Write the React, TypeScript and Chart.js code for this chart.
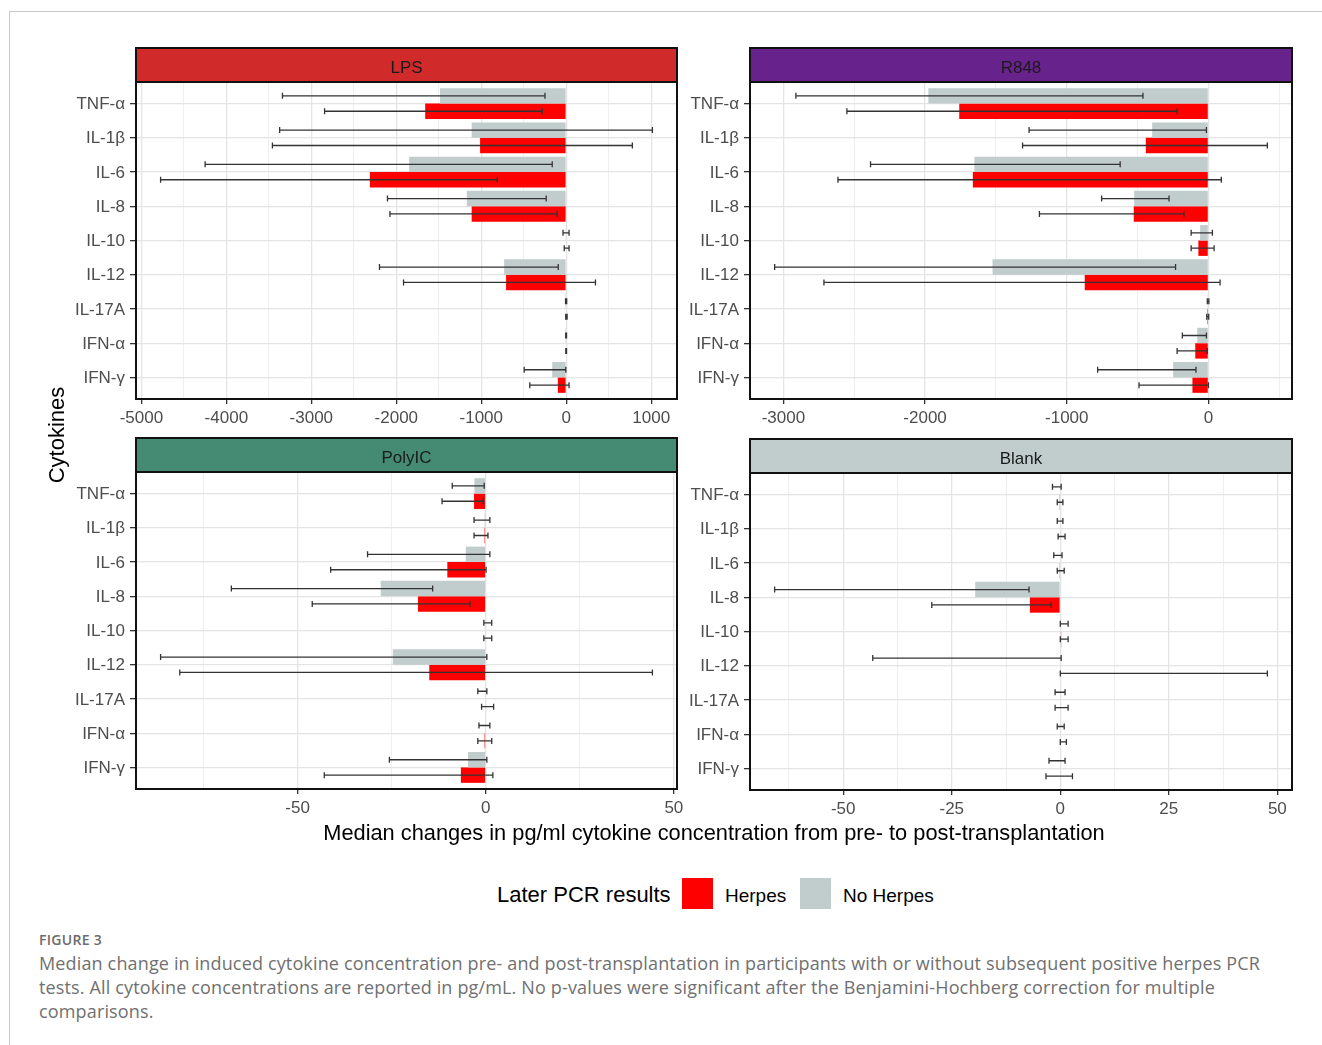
import React, { useEffect, useRef } from "react";
import { Chart, registerables } from "chart.js";

Chart.register(...registerables);

const FONT = "'Liberation Sans', Arial, Helvetica, sans-serif";
const CAPTION_FONT = "'Open Sans', 'Noto Sans', sans-serif";

// ---------------- DATA ----------------
const cytokines = ["TNF-α", "IL-1β", "IL-6", "IL-8", "IL-10", "IL-12", "IL-17A", "IFN-α", "IFN-γ"];

// LPS
const lpsNoHerpes = [-1486, -1113, -1849, -1170, -10, -731, -2, -2, -165];
const lpsNoHerpesLow = [-3340, -3373, -4250, -2104, -38, -2198, -8, -6, -495];
const lpsNoHerpesHigh = [-250, 1014, -165, -236, 33, -94, 5, 3, -5];
const lpsHerpes = [-1660, -1014, -2311, -1113, 0, -708, 0, 0, -99];
const lpsHerpesLow = [-2844, -3458, -4774, -2075, -24, -1915, -6, -5, -429];
const lpsHerpesHigh = [-283, 778, -811, -108, 33, 344, 10, 3, 33];
const lpsMajorTicks = [-5000, -4000, -3000, -2000, -1000, 0, 1000];
const lpsMinorTicks = [-4500, -3500, -2500, -1500, -500, 500];

// R848
const r848NoHerpes = [-1977, -397, -1652, -524, -59, -1524, -3, -79, -249];
const r848NoHerpesLow = [-2912, -1266, -2385, -754, -122, -3062, -8, -184, -782];
const r848NoHerpesHigh = [-462, -14, -623, -278, 28, -232, 3, -14, -88];
const r848Herpes = [-1759, -442, -1663, -527, -71, -873, -8, -93, -113];
const r848HerpesLow = [-2552, -1312, -2615, -1193, -122, -2714, -12, -221, -490];
const r848HerpesHigh = [-221, 416, 91, -173, 40, 82, 2, -8, 0];
const r848MajorTicks = [-3000, -2000, -1000, 0];
const r848MinorTicks = [-2500, -1500, -500, 500];

// PolyIC
const polyNoHerpes = [-3.0, -0.3, -5.3, -27.9, 0, -24.7, -0.2, 0, -4.7];
const polyNoHerpesLow = [-8.9, -3.1, -31.4, -67.6, -0.5, -86.4, -2.1, -1.8, -25.6];
const polyNoHerpesHigh = [-0.4, 1.1, 1.1, -14.1, 1.6, 0.3, 0.3, 1.1, 0.3];
const polyHerpes = [-3.1, -0.3, -10.2, -18.0, 0, -15.0, 0, -0.3, -6.6];
const polyHerpesLow = [-11.6, -3.1, -41.2, -46.1, -0.5, -81.3, -1.1, -2.1, -42.9];
const polyHerpesHigh = [-0.7, 0.6, 0.1, -4.2, 1.6, 44.3, 2.1, 1.6, 1.9];
const polyMajorTicks = [-50, 0, 50];
const polyMinorTicks = [-75, -25, 25];

// Blank
const blankNoHerpes = [-0.15, 0, -0.15, -19.6, 0, 0, 0, 0, 0];
const blankNoHerpesLow = [-1.8, -0.7, -1.5, -65.8, 0, -43.2, -1.2, -0.7, -2.6];
const blankNoHerpesHigh = [0.2, 0.6, 0.4, -7.2, 1.8, 0.2, 1.1, 0.9, 1.1];
const blankHerpes = [-0.2, 0, -0.2, -7.0, 0.2, 0, 0, 0, 0];
const blankHerpesLow = [-0.7, -0.5, -0.7, -29.6, 0, 0, -1.2, 0, -3.3];
const blankHerpesHigh = [0.6, 1.1, 0.9, -2.1, 1.8, 47.7, 1.8, 1.4, 2.8];
const blankMajorTicks = [-50, -25, 0, 25, 50];
const blankMinorTicks = [-62.5, -37.5, -12.5, 12.5, 37.5];

const seriesNames = ["No Herpes", "Herpes"];
const panelNames = ["LPS", "R848", "PolyIC", "Blank"];

// ---------------- STYLE ----------------
const RED = "#FF0000";
const GREY = "#C1CDCD";

type Panel = {
  title: string;
  stripColor: string;
  noHerpes: number[];
  noHerpesLow: number[];
  noHerpesHigh: number[];
  herpes: number[];
  herpesLow: number[];
  herpesHigh: number[];
  major: number[];
  minor: number[];
  plot: { left: number; top: number; right: number; bottom: number };
};

const panels: Panel[] = [
  {
    title: panelNames[0], stripColor: "#D12A2A",
    noHerpes: lpsNoHerpes, noHerpesLow: lpsNoHerpesLow, noHerpesHigh: lpsNoHerpesHigh,
    herpes: lpsHerpes, herpesLow: lpsHerpesLow, herpesHigh: lpsHerpesHigh,
    major: lpsMajorTicks, minor: lpsMinorTicks,
    plot: { left: 136, top: 82, right: 677, bottom: 399 },
  },
  {
    title: panelNames[1], stripColor: "#68228B",
    noHerpes: r848NoHerpes, noHerpesLow: r848NoHerpesLow, noHerpesHigh: r848NoHerpesHigh,
    herpes: r848Herpes, herpesLow: r848HerpesLow, herpesHigh: r848HerpesHigh,
    major: r848MajorTicks, minor: r848MinorTicks,
    plot: { left: 750, top: 82, right: 1292, bottom: 399 },
  },
  {
    title: panelNames[2], stripColor: "#458B74",
    noHerpes: polyNoHerpes, noHerpesLow: polyNoHerpesLow, noHerpesHigh: polyNoHerpesHigh,
    herpes: polyHerpes, herpesLow: polyHerpesLow, herpesHigh: polyHerpesHigh,
    major: polyMajorTicks, minor: polyMinorTicks,
    plot: { left: 136, top: 472, right: 677, bottom: 789 },
  },
  {
    title: panelNames[3], stripColor: "#C1CDCD",
    noHerpes: blankNoHerpes, noHerpesLow: blankNoHerpesLow, noHerpesHigh: blankNoHerpesHigh,
    herpes: blankHerpes, herpesLow: blankHerpesLow, herpesHigh: blankHerpesHigh,
    major: blankMajorTicks, minor: blankMinorTicks,
    plot: { left: 750, top: 473, right: 1292, bottom: 790 },
  },
];

const Y_AXIS_W = 116;
const PAD_TOP = 42;
const PAD_RIGHT = 13;
const X_AXIS_H = 36;
const STRIP_H = 34;

const errorBarPlugin = {
  id: "errorBars",
  afterDatasetsDraw(chart: any) {
    const { ctx } = chart;
    const xs = chart.scales.x;
    chart.data.datasets.forEach((ds: any, di: number) => {
      const meta = chart.getDatasetMeta(di);
      meta.data.forEach((bar: any, i: number) => {
        const y = bar.y;
        const x1 = xs.getPixelForValue(ds.errLow[i]);
        const x2 = xs.getPixelForValue(ds.errHigh[i]);
        ctx.save();
        ctx.strokeStyle = "#333333";
        ctx.lineWidth = 1.3;
        ctx.beginPath();
        ctx.moveTo(x1, y);
        ctx.lineTo(x2, y);
        ctx.moveTo(x1, y - 3);
        ctx.lineTo(x1, y + 3);
        ctx.moveTo(x2, y - 3);
        ctx.lineTo(x2, y + 3);
        ctx.stroke();
        ctx.restore();
      });
    });
  },
};

const framePlugin = {
  id: "panelFrame",
  afterDraw(chart: any, _args: any, opts: any) {
    const { ctx, chartArea: a } = chart;
    ctx.save();
    ctx.fillStyle = opts.stripColor;
    ctx.fillRect(a.left, a.top - STRIP_H, a.right - a.left, STRIP_H);
    ctx.strokeStyle = "#111111";
    ctx.lineWidth = 2;
    ctx.strokeRect(a.left, a.top - STRIP_H, a.right - a.left, STRIP_H);
    ctx.strokeRect(a.left, a.top, a.right - a.left, a.bottom - a.top);
    ctx.fillStyle = "#1A1A1A";
    ctx.font = `17px ${FONT}`;
    ctx.textAlign = "center";
    ctx.textBaseline = "middle";
    ctx.fillText(opts.title, (a.left + a.right) / 2, a.top - STRIP_H / 2 + 3);
    ctx.restore();
  },
};

function PanelChart({ p }: { p: Panel }) {
  const ref = useRef<HTMLCanvasElement | null>(null);
  const cLeft = p.plot.left - Y_AXIS_W;
  const cTop = p.plot.top - PAD_TOP;
  const cW = p.plot.right - cLeft + PAD_RIGHT;
  const cH = p.plot.bottom - cTop + X_AXIS_H;

  useEffect(() => {
    if (!ref.current) return;
    const allVals = [...p.noHerpes, ...p.noHerpesLow, ...p.noHerpesHigh, ...p.herpes, ...p.herpesLow, ...p.herpesHigh, 0];
    const lo = Math.min(...allVals);
    const hi = Math.max(...allVals);
    const expand = (hi - lo) * 0.05;
    const gridVals = [...p.major, ...p.minor].sort((a, b) => a - b);
    const isMajor = (v: number) => p.major.includes(v);

    const chart = new Chart(ref.current, {
      type: "bar",
      data: {
        datasets: [
          {
            label: seriesNames[0],
            data: p.noHerpes.map((v, i) => ({ x: v, y: i + 1 })),
            backgroundColor: GREY,
            borderWidth: 0,
            categoryPercentage: 0.9,
            barPercentage: 1.0,
            errLow: p.noHerpesLow,
            errHigh: p.noHerpesHigh,
          } as any,
          {
            label: seriesNames[1],
            data: p.herpes.map((v, i) => ({ x: v, y: i + 1 })),
            backgroundColor: RED,
            borderWidth: 0,
            categoryPercentage: 0.9,
            barPercentage: 1.0,
            errLow: p.herpesLow,
            errHigh: p.herpesHigh,
          } as any,
        ],
      },
      options: {
        indexAxis: "y",
        responsive: false,
        maintainAspectRatio: false,
        animation: false,
        devicePixelRatio: 1,
        layout: { padding: { left: 0, top: PAD_TOP, right: PAD_RIGHT, bottom: 0 } },
        plugins: {
          legend: { display: false },
          tooltip: { enabled: false },
          panelFrame: { stripColor: p.stripColor, title: p.title },
        } as any,
        scales: {
          x: {
            type: "linear",
            min: lo - expand,
            max: hi + expand,
            bounds: "data",
            offset: false,
            afterBuildTicks: (s: any) => {
              s.ticks = gridVals.map((v) => ({ value: v }));
            },
            afterFit: (s: any) => {
              s.height = X_AXIS_H;
            },
            border: { display: false },
            grid: {
              offset: false,
              color: (c: any) => (isMajor(c.tick?.value) ? "#E4E4E4" : "#EFEFEF"),
              lineWidth: (c: any) => (isMajor(c.tick?.value) ? 1.3 : 1),
              drawTicks: true,
              tickLength: 5,
              tickWidth: 1.3,
              tickColor: (c: any) => (isMajor(c.tick?.value) ? "#333333" : "rgba(0,0,0,0)"),
            },
            ticks: {
              autoSkip: false,
              maxRotation: 0,
              padding: 4,
              color: "#4D4D4D",
              font: { size: 17, family: FONT },
              callback: (v: any) => (isMajor(Number(v)) ? String(v) : ""),
            },
          },
          y: {
            type: "linear",
            reverse: true,
            min: 0.37,
            max: 9.63,
            bounds: "data",
            offset: false,
            afterBuildTicks: (s: any) => {
              s.ticks = cytokines.map((_, i) => ({ value: i + 1 }));
            },
            afterFit: (s: any) => {
              s.width = Y_AXIS_W;
            },
            border: { display: false },
            grid: {
              offset: false,
              color: "#E4E4E4",
              lineWidth: 1.3,
              drawTicks: true,
              tickLength: 6,
              tickWidth: 1.3,
              tickColor: "#333333",
            },
            ticks: {
              autoSkip: false,
              padding: 5,
              labelOffset: 1,
              color: "#4D4D4D",
              font: { size: 17, family: FONT },
              callback: (v: any) => cytokines[Number(v) - 1] ?? "",
            },
          },
        },
      } as any,
      plugins: [errorBarPlugin, framePlugin],
    });
    return () => chart.destroy();
  }, [p]);

  return (
    <canvas
      ref={ref}
      width={cW}
      height={cH}
      style={{ position: "absolute", left: cLeft, top: cTop, width: cW, height: cH }}
    />
  );
}

const captionLines = [
  "Median change in induced cytokine concentration pre- and post-transplantation in participants with or without subsequent positive herpes PCR",
  "tests. All cytokine concentrations are reported in pg/mL. No p-values were significant after the Benjamini-Hochberg correction for multiple",
  "comparisons.",
];

export default function App() {
  return (
    <div
      style={{
        position: "absolute",
        left: 0,
        top: 0,
        width: 1322,
        height: 1045,
        background: "#ffffff",
        overflow: "hidden",
        fontFamily: FONT,
      }}
    >
      <div
        style={{
          position: "absolute",
          left: 9,
          top: 11,
          width: 1320,
          height: 1040,
          borderTop: "1px solid #C8C8C8",
          borderLeft: "1px solid #C8C8C8",
        }}
      />
      {panels.map((p) => (
        <PanelChart key={p.title} p={p} />
      ))}
      <div
        style={{
          position: "absolute",
          left: 57 - 100,
          top: 435 - 13,
          width: 200,
          height: 26,
          lineHeight: "26px",
          textAlign: "center",
          fontSize: 22,
          color: "#000",
          transform: "rotate(-90deg)",
          whiteSpace: "nowrap",
        }}
      >
        Cytokines
      </div>
      <div
        style={{
          position: "absolute",
          left: 136,
          width: 1156,
          top: 820,
          height: 26,
          lineHeight: "26px",
          textAlign: "center",
          fontSize: 21.8,
          color: "#000",
          whiteSpace: "nowrap",
        }}
      >
        Median changes in pg/ml cytokine concentration from pre- to post-transplantation
      </div>
      {/* legend */}
      <div style={{ position: "absolute", left: 497, top: 882, height: 26, lineHeight: "26px", fontSize: 22, color: "#000", whiteSpace: "nowrap" }}>
        Later PCR results
      </div>
      <div style={{ position: "absolute", left: 682, top: 878, width: 31, height: 31, background: RED }} />
      <div style={{ position: "absolute", left: 725, top: 884, height: 24, lineHeight: "24px", fontSize: 19, color: "#000", whiteSpace: "nowrap" }}>
        {seriesNames[1]}
      </div>
      <div style={{ position: "absolute", left: 800, top: 878, width: 31, height: 31, background: GREY }} />
      <div style={{ position: "absolute", left: 843, top: 884, height: 24, lineHeight: "24px", fontSize: 19, color: "#000", whiteSpace: "nowrap" }}>
        {seriesNames[0]}
      </div>
      {/* caption */}
      <div
        style={{
          position: "absolute",
          left: 39,
          top: 931,
          fontFamily: CAPTION_FONT,
          fontSize: 14,
          fontWeight: 600,
          color: "#6B6B6B",
          letterSpacing: 0.3,
          lineHeight: "18px",
          whiteSpace: "nowrap",
        }}
      >
        FIGURE 3
      </div>
      <div
        style={{
          position: "absolute",
          left: 39,
          top: 951,
          fontFamily: CAPTION_FONT,
          fontSize: 18,
          letterSpacing: 0.15,
          color: "#707070",
          lineHeight: "24px",
          whiteSpace: "nowrap",
        }}
      >
        {captionLines.map((l, i) => (
          <div key={i}>{l}</div>
        ))}
      </div>
    </div>
  );
}
